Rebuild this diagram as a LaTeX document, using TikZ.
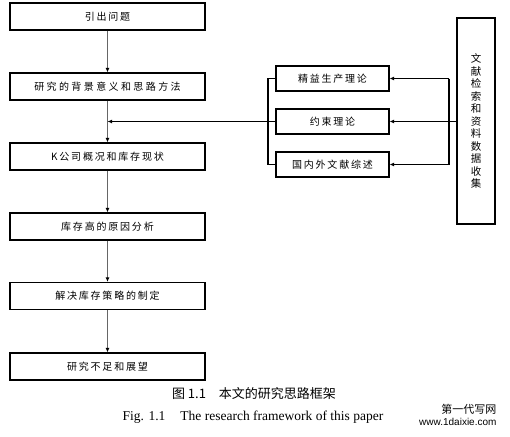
\documentclass[tikz,border=0pt]{standalone}
\usepackage{fontspec}
\setmainfont{Liberation Serif}
\newfontfamily\cjk[LetterSpace=18]{Noto Sans CJK SC}
\newfontfamily\cjkwide[LetterSpace=24]{Noto Sans CJK SC}
\newfontfamily\cjkplain{Noto Sans CJK SC}
\newfontfamily\wmsans{Liberation Sans}
\usetikzlibrary{arrows.meta}
\tikzset{
  lbox/.style={draw, line width=1.2pt, minimum width=195pt, minimum height=27pt, inner sep=0pt, font=\cjk\fontsize{10}{12}\selectfont},
  rbox/.style={draw, line width=1.2pt, minimum width=113pt, minimum height=25pt, inner sep=0pt, font=\cjk\fontsize{10}{12}\selectfont},
  tallbox/.style={draw, line width=1.2pt, minimum width=38pt, minimum height=206pt, inner sep=0pt, align=center, font=\cjkplain\fontsize{10.5}{12.5}\selectfont},
  varr/.style={draw=black!60, line width=1.1pt, -{Latex[length=4.5pt,width=4pt,black]}},
  harr/.style={draw=black, line width=1.6pt, -{Latex[length=4.5pt,width=4pt]}},
  hline/.style={draw=black, line width=1.6pt},
}
\begin{document}
\begin{tikzpicture}[x=1pt,y=-1pt]
\fill[white] (0,0) rectangle (510,436);
\useasboundingbox (0,0) rectangle (510,436);
% left column
\node[lbox] (b1) at (107.5,16.5) {引出问题};
\node[lbox, font=\cjkwide\fontsize{10}{12}\selectfont] (b2) at (107.5,86.5) {研究的背景意义和思路方法};
\node[lbox] (b3) at (107.5,156.5) {K公司概况和库存现状};
\node[lbox] (b4) at (107.5,226.5) {库存高的原因分析};
\node[lbox] (b5) at (107.5,296) {解决库存策略的制定};
\node[lbox] (b6) at (107.5,366.5) {研究不足和展望};
% right column
\node[rbox] (ra) at (332.5,78.5) {精益生产理论};
\node[rbox] (rb) at (332.5,121.5) {约束理论};
\node[rbox] (rc) at (332.5,164.5) {国内外文献综述};
\node[tallbox] (tall) at (476,121) {文\\献\\检\\索\\和\\资\\料\\数\\据\\收\\集};
% vertical arrows
\draw[varr] (b1.south) -- (b2.north);
\draw[varr] (b2.south) -- (b3.north);
\draw[varr] (b3.south) -- (b4.north);
\draw[varr] (b4.south) -- (b5.north);
\draw[varr] (b5.south) -- (b6.north);
% join arrow
\coordinate (j) at (b2.south |- rb.west);
\draw[harr] (rb.west) -- (j);
% left bracket
\coordinate (lbt) at (268,78.5);
\coordinate (lbb) at (268,164.5);
\draw[hline] (ra.west) -- (lbt) -- (lbb) -- (rc.west);
% right bracket
\coordinate (rbt) at (449,78.5);
\coordinate (rbb) at (449,164.5);
\draw[hline] (rbt) -- (rbb);
\draw[harr] (rbt) -- (ra.east);
\draw[harr] (rbb) -- (rc.east);
\draw[harr] (tall.west |- rb.east) -- (rb.east);
% captions
\node[font=\cjkplain\fontsize{13}{15}\selectfont] (cap1) at (254,394) {图 1.1\hspace{13pt}本文的研究思路框架};
\node[font=\fontsize{13.5}{15}\selectfont] (cap2) at (253,417) {Fig. 1.1\hspace{15pt}The research framework of this paper};
% watermark
\node[anchor=east, font=\cjkplain\fontsize{11}{12}\selectfont] (wm1) at (500,409) {第一代写网};
\node[anchor=east, font=\wmsans\fontsize{10}{12}\selectfont] (wm2) at (500,421.5) {www.1daixie.com};
\end{tikzpicture}
\end{document}
